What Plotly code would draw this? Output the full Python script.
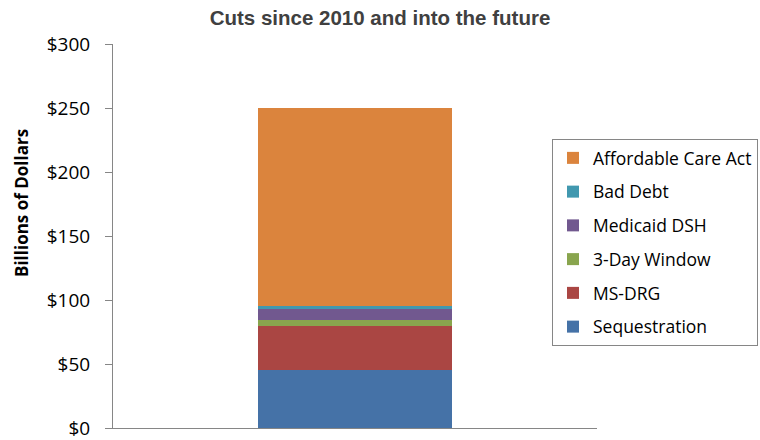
import plotly.graph_objects as go

category = ["Cuts"]
series_names = ["Sequestration", "MS-DRG", "3-Day Window", "Medicaid DSH", "Bad Debt", "Affordable Care Act"]
series_values = [45, 35, 4, 9, 2, 155]
series_colors = ["#4572A7", "#AA4643", "#89A54E", "#71588F", "#4198AF", "#DB843D"]
tick_vals = [0, 50, 100, 150, 200, 250, 300]
tick_text = ["$0", "$50", "$100", "$150", "$200", "$250", "$300"]

fig = go.Figure()
n = len(series_names)
for i, (name, val, col) in enumerate(zip(series_names, series_values, series_colors)):
    fig.add_trace(go.Bar(
        x=category, y=[val], name=name, marker_color=col,
        marker_line_width=0, width=0.4, legendgroup=name,
        legendrank=100 + (n - i),
    ))

fig.update_layout(
    width=760, height=440,
    barmode="stack",
    paper_bgcolor="white", plot_bgcolor="white",
    margin=dict(l=113, r=163, t=44, b=12, autoexpand=False),
    title=dict(text="<b>Cuts since 2010 and into the future</b>", x=0.5, xanchor="center",
               xref="container", y=1 - 18 / 440, yanchor="middle",
               font=dict(family="Liberation Sans, Arial", size=20.5, color="#404040")),
    font=dict(family="Open Sans, Liberation Sans", color="#000000"),
    showlegend=True,
    legend=dict(
        xref="container", yref="container",
        x=552 / 760, y=1 - 139 / 440, xanchor="left", yanchor="top",
        traceorder="grouped", tracegroupgap=8,
        bordercolor="#868686", borderwidth=1, bgcolor="white",
        font=dict(family="Open Sans, Liberation Sans", size=17.5, color="#000000"),
    ),
    annotations=[dict(
        text="<b>Billions of Dollars</b>", textangle=-90,
        xref="paper", yref="paper",
        x=(21 - 113) / 484, y=(428 - 203) / 384,
        xanchor="center", yanchor="middle", showarrow=False,
        font=dict(family="Open Sans, Liberation Sans", size=17, color="#000000"),
    )],
)
fig.update_xaxes(
    showticklabels=False, showline=True, linecolor="#868686", linewidth=1,
    ticks="", range=[-0.5, 0.5], showgrid=False, zeroline=False,
)
fig.update_yaxes(
    range=[0, 300], tickvals=tick_vals, ticktext=tick_text,
    showline=True, linecolor="#868686", linewidth=1,
    ticks="outside", ticklen=7, tickcolor="#868686",
    ticklabelstandoff=11, ticklabeloverflow="allow",
    showgrid=False, zeroline=False,
    tickfont=dict(family="Open Sans, Liberation Sans", size=19, color="#000000"),
)

fig.write_html("out.html")
